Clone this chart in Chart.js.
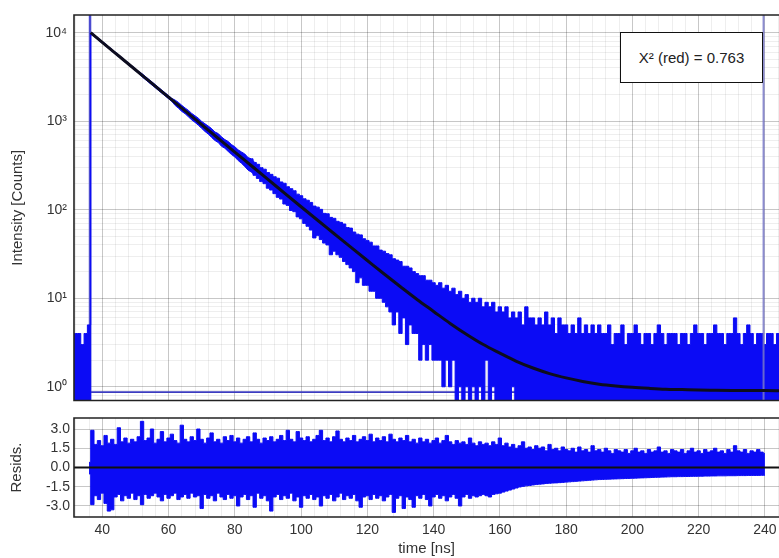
<!DOCTYPE html>
<html>
<head>
<meta charset="utf-8">
<script src="https://cdn.jsdelivr.net/npm/chart.js@4.4.1/dist/chart.umd.min.js"></script>
<style>
  body { margin: 0; background: #fff; }
  #wrap { position: relative; width: 779px; height: 558px; overflow: hidden; }
  canvas { position: absolute; left: 0; }
  #decay { top: 0; }
  #resid { top: 410px; }
  #chi {
    position: absolute; left: 620px; top: 32px; width: 143px; height: 51px;
    box-sizing: border-box; border: 1.5px solid #111; background: #fff;
    font: 15px 'Liberation Sans', Arial, sans-serif; color: #222;
    display: flex; align-items: center; justify-content: center;
  }
</style>
</head>
<body>
<div id="wrap">
  <canvas id="decay" width="779" height="410"></canvas>
  <canvas id="resid" width="779" height="148"></canvas>
  <div id="chi"></div>
</div>
<script>
// 1 ns bins, first bin at 31 ns: highest and lowest count seen in each bin
const binStart = 31;
const countsHi = [
  4, 4, 4, 3, 4, 5, 9890, 9210, 8575, 7985,
  7435, 6920, 6445, 6000, 5585, 5200, 4845, 4510, 4200, 3910,
  3640, 3440, 3200, 2980, 2775, 2585, 2405, 2240, 2085, 1945,
  1810, 1730, 1630, 1510, 1410, 1325, 1225, 1150, 1080, 995,
  935, 880, 825, 755, 725, 665, 620, 590, 545, 515,
  475, 450, 427, 388, 376, 342, 326, 299, 287, 263,
  251, 236, 227, 206, 199, 182, 173, 164, 150, 144,
  133, 128, 121, 110, 107, 101, 91, 90, 82, 80,
  74, 72, 69, 63, 62, 56, 53, 52, 47, 45,
  43, 39, 39, 35, 34, 32, 31, 28, 27, 26,
  23, 23, 22, 20, 19, 18, 18, 16, 16, 15,
  14, 15, 13, 14, 12, 13, 11, 12, 10, 11,
  9, 10, 9, 10, 8, 9, 8, 9, 7, 8,
  7, 8, 6, 7, 6, 7, 5, 8, 6, 6,
  5, 6, 5, 7, 5, 6, 4, 6, 5, 5,
  4, 5, 4, 6, 4, 5, 4, 5, 4, 5,
  4, 4, 5, 3, 4, 4, 5, 3, 4, 4,
  5, 4, 3, 4, 4, 3, 4, 5, 4, 3,
  4, 4, 4, 3, 4, 4, 3, 4, 5, 4,
  4, 3, 4, 4, 5, 4, 4, 3, 4, 4,
  6, 4, 3, 4, 5, 4, 3, 4, 4, 3,
  4, 4, 3, 4, 4
];
const countsLo = [
  0, 0, 0, 0, 0, 0, 9410, 8760, 8155, 7595,
  7070, 6585, 6130, 5710, 5315, 4950, 4605, 4290, 3995, 3720,
  3460, 3175, 2955, 2750, 2560, 2385, 2220, 2070, 1925, 1795,
  1670, 1505, 1400, 1290, 1215, 1120, 1035, 970, 900, 830,
  765, 715, 655, 605, 575, 520, 495, 455, 420, 395,
  360, 335, 308, 280, 266, 245, 226, 208, 197, 175,
  167, 152, 138, 132, 116, 112, 98, 95, 83, 79,
  70, 65, 59, 48, 51, 46, 42, 40, 31, 34,
  31, 29, 26, 24, 22, 20, 15, 17, 14, 14,
  12, 12, 10, 10, 9, 8, 7, 5, 7, 4,
  6, 3, 5, 4, 4, 2, 3, 2, 3, 2,
  2, 2, 1, 2, 1, 2, 0, 1, 0, 1,
  0, 1, 0, 1, 0, 2, 0, 1, 0, 0,
  0, 0, 0, 1, 0, 0, 0, 0, 0, 0,
  0, 0, 0, 0, 0, 0, 0, 0, 0, 0,
  0, 0, 0, 0, 0, 0, 0, 0, 0, 0,
  0, 0, 0, 0, 0, 0, 0, 0, 0, 0,
  0, 0, 0, 0, 0, 0, 0, 0, 0, 0,
  0, 0, 0, 0, 0, 0, 0, 0, 0, 0,
  0, 0, 0, 0, 0, 0, 0, 0, 0, 0,
  0, 0, 0, 0, 0, 0, 0, 0, 0, 0,
  0, 0, 0, 0, 0
];

const fitTime = [36.5, 40, 45, 50, 55, 60, 65, 70, 75, 80, 85, 90, 95, 100, 105, 110, 115, 120, 125, 130,
  135, 140, 145, 150, 155, 160, 165, 170, 175, 180, 185, 190, 195, 200, 205, 210, 215, 220, 225, 230,
  235, 240, 245];
const fitCounts = [10000, 7785, 5450, 3816, 2670, 1869, 1308, 915, 640, 448, 314, 220, 154, 108, 76, 53.6, 37.8, 26.7, 18.9, 13.5,
  9.7, 7.1, 5.2, 3.9, 3.0, 2.4, 1.94, 1.63, 1.41, 1.26, 1.15, 1.07, 1.02, 0.985, 0.96, 0.94, 0.93, 0.92, 0.915, 0.91,
  0.905, 0.905, 0.9];

// weighted residuals, same 1 ns bins starting at 36 ns
const residStart = 36;
const residHi = [
  0.4, 2.9, 1.8, 2.1, 1.7, 2.5, 1.9, 2.2, 1.8, 3.1,
  2.0, 2.3, 1.9, 2.2, 2.0, 2.4, 3.6, 2.1, 2.3, 3.0,
  1.9, 2.2, 2.8, 2.0, 2.3, 2.6, 2.1, 1.9, 3.3, 2.2,
  2.0, 2.4, 2.1, 3.0, 2.2, 1.9, 2.3, 2.7, 2.0, 2.2,
  1.9, 2.4, 2.1, 2.5, 2.0, 2.3, 1.9, 2.2, 2.4, 2.0,
  2.7, 2.2, 1.9, 2.3, 2.1, 2.4, 2.0, 2.2, 2.5, 2.1,
  2.9, 2.2, 2.0, 2.8, 2.3, 2.1, 2.4, 2.0, 2.2, 2.5,
  2.9, 2.1, 2.3, 2.0, 2.4, 2.85, 2.2, 2.0, 2.3, 2.1,
  2.5, 2.0, 2.2, 2.4, 2.1, 2.6, 2.0, 2.3, 2.1, 2.4,
  2.0, 2.6, 2.2, 2.0, 2.3, 2.1, 2.5, 2.0, 2.2, 1.9,
  2.3, 2.0, 2.2, 1.9, 2.1, 2.3, 1.9, 2.1, 2.5, 2.0,
  1.8, 2.1, 1.9, 2.0, 1.8, 2.3, 1.9, 1.7, 2.0, 1.8,
  1.9, 1.7, 2.0, 1.8, 2.3, 1.7, 1.9, 1.6, 1.8, 1.5,
  1.7, 2.0, 1.5, 1.6, 1.4, 1.7, 1.5, 1.6, 1.3, 1.8,
  1.4, 1.5, 1.3, 1.6, 1.4, 1.3, 1.5, 1.2, 1.6, 1.3,
  1.4, 1.2, 1.7, 1.3, 1.4, 1.2, 1.5, 1.3, 1.1, 1.4,
  1.3, 1.2, 1.4, 1.1, 1.3, 1.5, 1.2, 1.3, 1.1, 1.4,
  1.2, 1.3, 1.6, 1.2, 1.3, 1.1, 1.4, 1.3, 1.2, 1.4,
  1.1, 1.3, 1.5, 1.2, 1.3, 1.1, 1.4, 1.2, 1.3, 1.5,
  1.2, 1.3, 1.1, 1.4, 1.2, 1.7, 1.3, 1.2, 1.4, 1.1,
  1.3, 1.2, 1.4, 1.2, 1.1
];
const residLo = [
  -0.5, -2.9, -2.2, -2.5, -2.0, -2.8, -3.4, -3.3, -2.3, -2.1,
  -2.6, -2.2, -2.4, -2.0, -2.5, -2.2, -2.9, -2.1, -2.4, -2.2,
  -2.0, -2.3, -2.6, -2.1, -2.4, -2.2, -2.0, -2.5, -2.3, -2.1,
  -2.4, -2.0, -2.3, -2.2, -3.2, -2.1, -2.4, -2.2, -2.6, -2.0,
  -2.3, -2.5, -2.1, -2.4, -2.2, -3.0, -2.3, -2.1, -2.5, -2.2,
  -3.1, -2.0, -2.4, -2.2, -2.6, -3.4, -2.3, -2.1, -2.5, -2.2,
  -2.4, -2.0, -2.6, -2.3, -3.1, -2.2, -2.4, -2.1, -2.5, -2.3,
  -3.0, -2.2, -2.4, -2.1, -2.6, -2.3, -2.0, -2.5, -2.2, -2.4,
  -2.1, -2.6, -3.1, -2.3, -2.2, -2.5, -2.1, -2.4, -2.2, -2.6,
  -2.3, -2.1, -3.5, -2.4, -2.2, -3.2, -2.3, -2.5, -3.1, -2.2,
  -2.4, -2.1, -2.5, -3.0, -2.3, -2.1, -2.4, -2.2, -2.6, -2.3,
  -2.1, -2.4, -3.0, -2.3, -2.1, -2.4, -2.2, -2.3, -2.2, -2.1,
  -2.2, -2.3, -2.1, -2.05, -2.0, -1.92, -1.84, -1.76, -1.68, -1.6,
  -1.52, -1.47, -1.43, -1.4, -1.36, -1.33, -1.3, -1.28, -1.25, -1.23,
  -1.21, -1.2, -1.18, -1.16, -1.14, -1.12, -1.1, -1.08, -1.06, -1.04,
  -1.02, -1.0, -0.98, -0.96, -0.94, -0.93, -0.92, -0.91, -0.9, -0.89,
  -0.88, -0.87, -0.86, -0.85, -0.84, -0.83, -0.82, -0.81, -0.8, -0.79,
  -0.78, -0.77, -0.76, -0.75, -0.74, -0.73, -0.72, -0.72, -0.71, -0.71,
  -0.70, -0.70, -0.69, -0.69, -0.68, -0.68, -0.67, -0.67, -0.66, -0.66,
  -0.65, -0.65, -0.65, -0.64, -0.64, -0.64, -0.63, -0.63, -0.63, -0.62,
  -0.62, -0.62, -0.62, -0.61, -0.61
];

const decadeLabels = ['10⁰', '10¹', '10²', '10³', '10⁴'];
const timeLabels = [40, 60, 80, 100, 120, 140, 160, 180, 200, 220, 240];
const residLabels = [-3.0, -1.5, 0.0, 1.5, 3.0];
const cursorStart = 36.3;
const cursorEnd = 239.6;
const cursorLevel = 0.87;
const chiText = 'X² (red) = 0.763';

const X_MIN = 31.46, X_MAX = 244.26;
const Y_MIN = 0.704, Y_MAX = 15840;
const R_MIN = -3.86, R_MAX = 3.86;

const BLUE = '#0b0bf5';
const GRID = 'rgba(0,0,0,0.22)';
const GRID_MINOR = 'rgba(0,0,0,0.065)';

Chart.defaults.font.family = "'Liberation Sans', Arial, sans-serif";
Chart.defaults.font.size = 14;
Chart.defaults.color = '#333';

document.getElementById('chi').textContent = chiText;

const binsToPoints = (start, values) => values.map((v, i) => ({ x: start + i, y: v }));
// empty bins (0 counts) sit on the floor of the log axis
const floorZero = values => values.map(v => (v > 0 ? v : Y_MIN * 0.7));

// min/max pair of the counts between two bins, filled in between
function countBand(fromNs, toNs, stepped) {
  const a = fromNs - binStart, b = toNs - binStart + 1;
  return [
    { label: 'counts min', data: binsToPoints(fromNs, floorZero(countsLo.slice(a, b))),
      borderColor: BLUE, borderWidth: 1, stepped, order: 3 },
    { label: 'counts max', data: binsToPoints(fromNs, floorZero(countsHi.slice(a, b))),
      borderColor: BLUE, backgroundColor: BLUE, borderWidth: 1, stepped, fill: '-1', order: 2 }
  ];
}

// axis lines on top, left and bottom (right side is cut off in the original)
const frame = {
  id: 'frame',
  afterDraw(chart) {
    const { ctx, chartArea: a } = chart;
    ctx.save();
    ctx.strokeStyle = '#222';
    ctx.lineWidth = 1.6;
    ctx.beginPath();
    ctx.moveTo(a.right + 2, a.top);
    ctx.lineTo(a.left, a.top);
    ctx.lineTo(a.left, a.bottom);
    ctx.lineTo(a.right + 2, a.bottom);
    ctx.stroke();
    ctx.restore();
  }
};

function timeAxis(showLabels, height) {
  return {
    type: 'linear',
    min: X_MIN,
    max: X_MAX,
    afterBuildTicks: s => {
      const t = [];
      for (let v = Math.ceil(X_MIN / 4) * 4; v <= X_MAX; v += 4) t.push({ value: v });
      s.ticks = t;
    },
    afterFit: s => { s.height = height; s.paddingLeft = 0; s.paddingRight = 0; },
    grid: { color: c => (c.tick && c.tick.value % 20 === 0 ? GRID : GRID_MINOR), drawTicks: false },
    border: { display: false },
    ticks: {
      display: showLabels, autoSkip: false, maxRotation: 0, padding: 5,
      callback: v => (timeLabels.includes(v) ? String(v) : '')
    },
    title: { display: showLabels, text: 'time [ns]', font: { size: 15 }, padding: { top: 0, bottom: 0 } }
  };
}

const common = {
  responsive: false,
  animation: false,
  events: [],
  plugins: { legend: { display: false }, tooltip: { enabled: false } },
  elements: { point: { radius: 0 }, line: { tension: 0 } }
};

new Chart(document.getElementById('decay'), {
  type: 'line',
  data: {
    datasets: [
      { label: 'fit', data: fitTime.map((t, i) => ({ x: t, y: fitCounts[i] })),
        borderColor: '#0d0d1e', borderWidth: 3, cubicInterpolationMode: 'monotone', order: 0 },
      { label: 'end cursor', data: [{ x: cursorEnd, y: Y_MIN }, { x: cursorEnd, y: Y_MAX }],
        borderColor: 'rgba(120,120,200,0.85)', borderWidth: 2, order: 1 },
      ...countBand(31, 37, 'middle'),
      ...countBand(37, 86, false),
      ...countBand(85, 245, 'middle'),
      { label: 'start cursor', data: [{ x: cursorStart, y: Y_MIN }, { x: cursorStart, y: Y_MAX }],
        borderColor: '#4b4bd0', borderWidth: 2.5, order: 4 },
      { label: 'level cursor', data: [{ x: X_MIN, y: cursorLevel }, { x: X_MAX, y: cursorLevel }],
        borderColor: '#3c3cc0', borderWidth: 1.6, order: 5 }
    ]
  },
  options: {
    ...common,
    layout: { padding: { top: 15, left: 0, right: 0, bottom: 0 } },
    scales: {
      x: timeAxis(false, 9.5),
      y: {
        type: 'logarithmic',
        min: Y_MIN,
        max: Y_MAX,
        afterBuildTicks: s => {
          const t = [];
          for (let e = -1; e <= 4; e++) {
            for (let m = 1; m <= 9; m++) {
              const v = m * Math.pow(10, e);
              if (v >= Y_MIN && v <= Y_MAX) t.push({ value: v, major: m === 1 });
            }
          }
          s.ticks = t;
        },
        afterFit: s => { s.width = 74; s.paddingTop = 0; s.paddingBottom = 0; },
        grid: { color: c => (c.tick && c.tick.major ? GRID : GRID_MINOR), drawTicks: false },
        border: { display: false },
        ticks: {
          autoSkip: false, padding: 7,
          callback: (v, i, ticks) => (ticks[i].major ? decadeLabels[Math.round(Math.log10(v))] : '')
        },
        title: { display: true, text: 'Intensity [Counts]', font: { size: 15 }, padding: { top: 9, bottom: 0 } }
      }
    }
  },
  plugins: [frame]
});

new Chart(document.getElementById('resid'), {
  type: 'line',
  data: {
    datasets: [
      { label: 'zero', data: [{ x: X_MIN, y: 0 }, { x: X_MAX, y: 0 }],
        borderColor: '#111', borderWidth: 2, order: 0 },
      { label: 'resid min', data: binsToPoints(residStart, residLo),
        borderColor: BLUE, borderWidth: 1, stepped: 'middle', order: 2 },
      { label: 'resid max', data: binsToPoints(residStart, residHi),
        borderColor: BLUE, backgroundColor: BLUE, borderWidth: 1, stepped: 'middle', fill: '-1', order: 1 }
    ]
  },
  options: {
    ...common,
    layout: { padding: { top: 8, left: 0, right: 0, bottom: 0 } },
    scales: {
      x: timeAxis(true, 41),
      y: {
        min: R_MIN,
        max: R_MAX,
        afterBuildTicks: s => { s.ticks = residLabels.map(v => ({ value: v })); },
        afterFit: s => { s.width = 74; s.paddingTop = 0; s.paddingBottom = 0; },
        grid: { color: GRID, drawTicks: false },
        border: { display: false },
        ticks: { autoSkip: false, padding: 4, callback: v => v.toFixed(1) },
        title: { display: true, text: 'Resids.', font: { size: 15 }, padding: { top: 8, bottom: 0 } }
      }
    }
  },
  plugins: [frame]
});
</script>
</body>
</html>
